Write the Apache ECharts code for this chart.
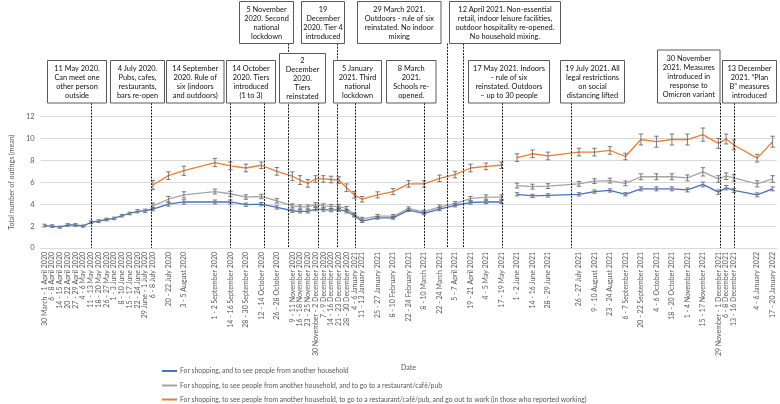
<!DOCTYPE html>
<html><head><meta charset="utf-8">
<script src="https://cdn.jsdelivr.net/npm/echarts@6/dist/echarts.min.js"></script>
<style>html,body{margin:0;padding:0;background:#fff}#c{width:780px;height:404px}</style>
</head><body><div id="c"></div>
<script>
// ---- weekly slots (one per week from 30 March 2020); '' = no survey that week
const weekLabels = [
'30 March - 1 April 2020','6 - 8 April 2020','14 - 15 April 2020','20 - 22 April 2020','27 - 29 April 2020','4 - 6 May 2020','11 - 13 May 2020','18 - 20 May 2020','26 - 27 May 2020','1 - 3 June 2020',
'8 - 10 June 2020','15 - 17 June 2020','22 - 24 June 2020','29 June - 1 July 2020','6 - 8 July 2020','','20 - 22 July 2020','','3 - 5 August 2020','',
'','','1 - 2 September 2020','','14 - 16 September 2020','','28 - 30 September 2020','','12 - 14 October 2020','',
'26 - 28 October 2020','','9 - 11 November 2020','16 - 18 November 2020','23 - 25 November 2020','30 November - 2 December 2020','7 - 9 December 2020','14 - 16 December 2020','21 - 23 December 2020','28 - 30 December 2020',
'4 - 6 January 2021','11 - 13 January 2021','','25 - 27 January 2021','','8 - 10 February 2021','','22 - 24 February 2021','','8 - 10 March 2021',
'','22 - 24 March 2021','','5 - 7 April 2021','','19 - 21 April 2021','','4 - 5 May 2021','','17 - 19 May 2021',
'','1 - 2 June 2021','','14 - 16 June 2021','','28 - 29 June 2021','','','','26 - 27 July 2021',
'','9 - 10 August 2021','','23 - 24 August 2021','','6 - 7 September 2021','','20 - 22 September 2021','','4 - 6 October 2021',
'','18 - 20 October 2021','','1 - 4 November 2021','','15 - 17 November 2021','','29 November - 1 December 2021','6 - 8 December 2021','13 - 16 December 2021',
'','','4 - 6 January 2022','','17 - 20 January 2022'
];
const GAP = '-'; // a week where the lines are broken
const shopVisit = [
2.05,2.0,1.9,2.1,2.1,2.0,2.35,2.45,2.6,2.7,
2.95,3.15,3.35,3.4,3.55,null,4.0,null,4.2,null,
null,null,4.2,null,4.2,null,3.95,null,4.0,null,
3.7,null,3.4,3.35,3.35,3.55,3.5,3.45,3.5,3.35,
2.95,2.45,null,2.75,null,2.75,null,3.45,null,3.15,
null,3.55,null,3.9,null,4.15,null,4.2,null,4.2,
GAP,4.9,null,4.75,null,4.8,null,null,null,4.9,
null,5.15,null,5.25,null,4.9,null,5.4,null,5.4,
null,5.4,null,5.3,null,5.8,null,5.1,5.5,5.25,
null,null,4.85,null,5.4];
const shopVisitErr = [
0.12,0.12,0.1,0.12,0.12,0.1,0.12,0.12,0.12,0.12,
0.12,0.12,0.15,0.15,0.15,null,0.18,null,0.2,null,
null,null,0.18,null,0.18,null,0.15,null,0.15,null,
0.15,null,0.15,0.15,0.15,0.15,0.15,0.15,0.15,0.15,
0.12,0.12,null,0.12,null,0.12,null,0.12,null,0.12,
null,0.15,null,0.15,null,0.15,null,0.15,null,0.15,
null,0.15,null,0.15,null,0.15,null,null,null,0.15,
null,0.15,null,0.15,null,0.15,null,0.18,null,0.18,
null,0.18,null,0.18,null,0.22,null,0.2,0.2,0.18,
null,null,0.18,null,0.18];
const shopVisitPub = [
null,null,null,null,null,null,null,null,null,null,
null,null,null,null,3.85,null,4.45,null,4.85,null,
null,null,5.15,null,4.95,null,4.65,null,4.7,null,
4.3,null,3.85,3.75,3.75,3.95,3.85,3.8,3.8,3.6,
3.05,2.65,null,2.9,null,2.9,null,3.6,null,3.3,
null,3.75,null,4.05,null,4.5,null,4.65,null,4.65,
GAP,5.7,null,5.6,null,5.65,null,null,null,5.85,
null,6.1,null,6.15,null,5.9,null,6.5,null,6.5,
null,6.5,null,6.4,null,6.95,null,6.3,6.55,6.4,
null,null,5.85,null,6.3];
const shopVisitPubErr = [
null,null,null,null,null,null,null,null,null,null,
null,null,null,null,0.25,null,0.25,null,0.28,null,
null,null,0.22,null,0.22,null,0.2,null,0.2,null,
0.2,null,0.18,0.18,0.18,0.18,0.18,0.18,0.18,0.18,
0.15,0.15,null,0.15,null,0.15,null,0.15,null,0.15,
null,0.18,null,0.18,null,0.2,null,0.2,null,0.2,
null,0.22,null,0.22,null,0.22,null,null,null,0.22,
null,0.22,null,0.22,null,0.22,null,0.27,null,0.27,
null,0.27,null,0.27,null,0.38,null,0.3,0.3,0.3,
null,null,0.28,null,0.3];
const shopVisitPubWork = [
null,null,null,null,null,null,null,null,null,null,
null,null,null,null,5.75,null,6.6,null,7.05,null,
null,null,7.8,null,7.5,null,7.3,null,7.55,null,
7.0,null,6.55,6.2,5.9,6.3,6.3,6.25,6.2,5.5,
4.85,4.45,null,4.85,null,5.15,null,5.85,null,5.85,
null,6.35,null,6.7,null,7.3,null,7.45,null,7.55,
GAP,8.25,null,8.6,null,8.4,null,null,null,8.75,
null,8.75,null,8.9,null,8.35,null,9.9,null,9.7,
null,9.9,null,9.9,null,10.35,null,9.55,9.95,9.4,
null,null,8.2,null,9.7];
const shopVisitPubWorkErr = [
null,null,null,null,null,null,null,null,null,null,
null,null,null,null,0.42,null,0.35,null,0.42,null,
null,null,0.38,null,0.35,null,0.35,null,0.3,null,
0.35,null,0.4,0.4,0.35,0.3,0.3,0.3,0.3,0.35,
0.3,0.25,null,0.28,null,0.28,null,0.3,null,0.3,
null,0.3,null,0.3,null,0.35,null,0.3,null,0.3,
null,0.35,null,0.35,null,0.35,null,null,null,0.35,
null,0.35,null,0.35,null,0.3,null,0.5,null,0.5,
null,0.5,null,0.5,null,0.6,null,0.45,0.45,0.45,
null,null,0.35,null,0.5];
const seriesNames = [
'For shopping, and to see people from another household',
'For shopping, to see people from another household, and to go to a restaurant/café/pub',
'For shopping, to see people from another household, to go to a restaurant/café/pub, and go out to work (in those who reported working)'
];
const yTicks = {min:0, max:12, step:2};
const startDate = '2020-03-30';
// ---- policy annotations
const annotationDates = ['2020-05-11','2020-07-04','2020-09-14','2020-10-14','2020-11-05','2020-12-02','2020-12-19','2021-01-05','2021-03-08','2021-03-29','2021-04-12','2021-05-17','2021-07-19','2021-11-30','2021-12-13'];
const annotationTexts = [
'11 May 2020.\nCan meet one\nother person\noutside',
'4 July 2020.\nPubs, cafes,\nrestaurants,\nbars re-open',
'14 September\n2020. Rule of\nsix (indoors\nand outdoors)',
'14 October\n2020. Tiers\nintroduced\n(1 to 3)',
'5 November\n2020. Second\nnational\nlockdown',
'2\nDecember\n2020.\nTiers\nreinstated',
'19\nDecember\n2020. Tier 4\nintroduced',
'5 January\n2021. Third\nnational\nlockdown',
'8 March\n2021.\nSchools re-\nopened.',
'29 March 2021.\nOutdoors - rule of six\nreinstated. No indoor\nmixing',
'12 April 2021. Non-essential\nretail, indoor leisure facilities,\noutdoor hospitality re-opened.\nNo household mixing.',
'17 May 2021. Indoors\n- rule of six\nreinstated. Outdoors\n\u2013 up to 30 people',
'19 July 2021. All\nlegal restrictions\non social\ndistancing lifted',
'30 November\n2021. Measures\nintroduced in\nresponse to\nOmicron variant',
'13 December\n2021. \u201cPlan\nB\u201d measures\nintroduced'
];
// layout of annotation boxes (pixels: x0, y0, x1, y1)
const annotationBoxes = [
[47.5,60.5,106.5,103],[110.5,60.5,164.5,103],[166.5,60.5,224,103],[226.5,60.5,275.5,103],
[239.5,1.5,293.5,43.5],[279.5,53.5,325.5,103],[301.5,1.5,344.5,43.5],[333.5,60.5,381.5,103],
[386.5,60.5,436,103],[357.5,1.5,441,43.5],[449.5,1.5,560.5,43.5],[468.5,60.5,549.5,103],
[560.5,60.5,624.5,103],[657.5,50,720,103],[722.5,60.5,776.5,103]
];

const colors = ['#4472C4','#A5A5A5','#ED7D31'];
const FONT = 'Lato, "Open Sans", sans-serif';
const DAY = 86400000;
const t0 = Date.parse(startDate);
const annotationPos = annotationDates.map(d => (Date.parse(d) - t0) / (7*DAY));

function toPairs(arr){
  const out = [];
  arr.forEach((v,i)=>{ if(v===null) return; out.push(v===GAP ? [i,'-'] : [i,v]); });
  return out;
}
function errData(vals, errs){
  const out = [];
  vals.forEach((v,i)=>{ if(v===null||v===GAP||errs[i]==null) return; out.push([i, v-errs[i], v+errs[i]]); });
  return out;
}
function errRender(params, api){
  const x = api.value(0);
  const lo = api.coord([x, api.value(1)]);
  const hi = api.coord([x, api.value(2)]);
  const w = 2.2;
  const st = {stroke:'#6b6b6b', lineWidth:0.9};
  return {type:'group', children:[
    {type:'line', shape:{x1:lo[0],y1:lo[1],x2:hi[0],y2:hi[1]}, style:st},
    {type:'line', shape:{x1:lo[0]-w,y1:lo[1],x2:lo[0]+w,y2:lo[1]}, style:st},
    {type:'line', shape:{x1:hi[0]-w,y1:hi[1],x2:hi[0]+w,y2:hi[1]}, style:st}
  ]};
}
function annRender(params, api){
  const i = params.dataIndex;
  const base = api.coord([api.value(0), 0]);
  const b = annotationBoxes[i];
  const xl = Math.round(base[0]) + 0.5;
  return {type:'group', children:[
    {type:'line', shape:{x1:xl,y1:b[3],x2:xl,y2:base[1]}, style:{stroke:'#1a1a1a', lineWidth:1, lineDash:[2,1.2]}},
    {type:'rect', shape:{x:b[0],y:b[1],width:b[2]-b[0],height:b[3]-b[1]}, style:{fill:'#fff', stroke:'#5a5a5a', lineWidth:1}},
    {type:'text', style:{text:annotationTexts[i], x:(b[0]+b[2])/2, y:(b[1]+b[3])/2+0.5, align:'center', verticalAlign:'middle', font:'7.4px '+FONT, lineHeight:9, fill:'#111'}}
  ]};
}

const values = [shopVisit, shopVisitPub, shopVisitPubWork];
const errs = [shopVisitErr, shopVisitPubErr, shopVisitPubWorkErr];
const series = [];
values.forEach((arr,k)=>{
  series.push({name:seriesNames[k], type:'line', data:toPairs(arr), showSymbol:false, symbol:'none',
    connectNulls:false, lineStyle:{color:colors[k], width:1.3}, itemStyle:{color:colors[k]}, z:2, silent:true});
});
values.forEach((arr,k)=>{
  series.push({type:'custom', renderItem:errRender, data:errData(arr, errs[k]), z:3, silent:true,
    encode:{x:0, y:[1,2]}});
});
series.push({type:'custom', xAxisIndex:1, renderItem:annRender, data:annotationPos.map(p=>[p,0]), z:10, silent:true, clip:false, encode:{x:0,y:1}});

const legendTops = [367.5, 382, 396];
const legends = seriesNames.map((n,k)=>({
  orient:'horizontal', left:162, top:legendTops[k], itemWidth:15, itemHeight:2, icon:'rect',
  data:[n], textStyle:{fontSize:6.8, color:'#595959', fontFamily:FONT, padding:[0,0,0,-2]}, padding:0, selectedMode:false
}));

const chart = echarts.init(document.getElementById('c'), null, {renderer:'canvas'});
chart.setOption({
  animation:false,
  color:colors,
  textStyle:{fontFamily:FONT},
  grid:{left:25, right:3.5, top:116.5, bottom:156, containLabel:false},
  legend:legends,
  xAxis:[{
    type:'category', data:weekLabels, boundaryGap:true,
    axisLine:{lineStyle:{color:'#d9d9d9'}}, axisTick:{show:false},
    axisLabel:{interval:0, rotate:90, fontSize:7, color:'#595959', margin:4, fontFamily:FONT},
    name:'Date', nameLocation:'middle', nameGap:116, nameTextStyle:{fontSize:7, color:'#595959', fontFamily:FONT}
  },{
    type:'value', min:-0.5, max:weekLabels.length-0.5, show:false
  }],
  yAxis:{type:'value', min:yTicks.min, max:yTicks.max, interval:yTicks.step,
    axisLine:{show:false}, axisTick:{show:false},
    splitLine:{lineStyle:{color:'#d9d9d9', width:1}},
    axisLabel:{fontSize:7.5, color:'#595959', margin:6, fontFamily:FONT},
    name:'Total number of outings (mean)', nameLocation:'middle', nameGap:15, nameRotate:90,
    nameTextStyle:{fontSize:7, color:'#595959', fontFamily:FONT}},
  series:series
});
</script></body></html>
